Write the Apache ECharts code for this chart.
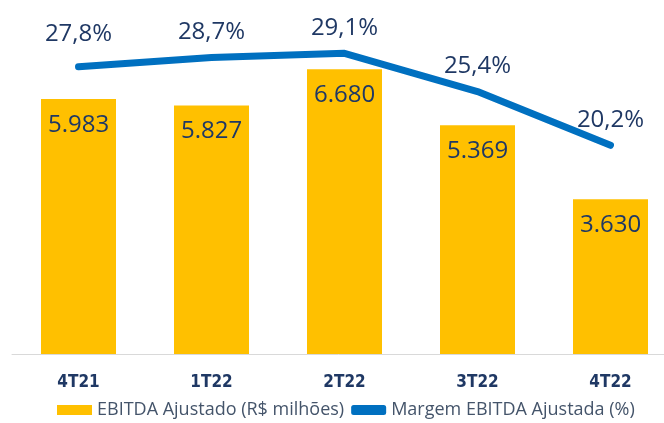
<!DOCTYPE html>
<html>
<head>
<meta charset="utf-8">
<script src="https://cdn.jsdelivr.net/npm/echarts@6/dist/echarts.min.js"></script>
<style>
  html, body { margin: 0; padding: 0; background: #fff; }
  #chart { width: 664px; height: 423px; }
</style>
</head>
<body>
<div id="chart"></div>
<script>
const categories = ['4T21', '1T22', '2T22', '3T22', '4T22'];
const ebitda = [5983, 5827, 6680, 5369, 3630];
const margem = [27.8, 28.7, 29.1, 25.4, 20.2];

const navy = '#1F3864';
const blue = '#0070C0';

// pt-BR number formats
const fmtThousands = v => String(v).replace(/\B(?=(\d{3})+(?!\d))/g, '.');
const fmtPct = v => v.toFixed(1).replace('.', ',') + '%';

const chart = echarts.init(document.getElementById('chart'));

chart.setOption({
  animation: false,
  textStyle: { fontFamily: 'Open Sans' },
  grid: { left: 12, top: 13, right: -13, height: 341, outerBoundsMode: 'none' },
  legend: {
    top: 399,
    left: 52,
    padding: [2, 5],
    itemGap: 7,
    textStyle: { color: '#44546A', fontSize: 18, fontFamily: 'Open Sans' },
    data: [
      { name: 'EBITDA Ajustado (R$ milhões)', icon: 'rect', itemStyle: { color: '#FFC000' } },
      { name: 'Margem EBITDA Ajustada (%)', icon: 'roundRect', itemStyle: { color: blue } }
    ],
    itemWidth: 35,
    itemHeight: 10
  },
  xAxis: {
    type: 'category',
    data: categories,
    axisTick: { show: false },
    axisLine: { lineStyle: { color: '#D9D9D9', width: 1 } },
    axisLabel: {
      color: navy,
      fontWeight: 'bold',
      fontSize: 17,
      fontFamily: "'DejaVu Sans Condensed', 'Liberation Sans', sans-serif",
      margin: 20
    }
  },
  yAxis: [
    { type: 'value', min: 0, max: 8000, show: false, splitLine: { show: false } },
    { type: 'value', min: 0, max: 33, show: false, splitLine: { show: false } }
  ],
  series: [
    {
      name: 'EBITDA Ajustado (R$ milhões)',
      type: 'bar',
      data: ebitda,
      barWidth: 75,
      itemStyle: { color: '#FFC000' },
      label: {
        show: true,
        position: 'insideTop',
        distance: 14,
        color: navy,
        fontSize: 24,
        formatter: p => fmtThousands(p.value)
      }
    },
    {
      name: 'Margem EBITDA Ajustada (%)',
      type: 'line',
      yAxisIndex: 1,
      data: margem,
      symbol: 'circle',
      symbolSize: 2,
      showSymbol: true,
      lineStyle: { color: blue, width: 7, cap: 'round', join: 'round' },
      itemStyle: { color: blue },
      label: {
        show: true,
        position: 'top',
        distance: 12,
        color: navy,
        fontSize: 24,
        formatter: p => fmtPct(p.value)
      },
      labelLayout: p => (p.dataIndex === 0 ? { dy: -8 } : {})
    }
  ]
});
</script>
</body>
</html>
